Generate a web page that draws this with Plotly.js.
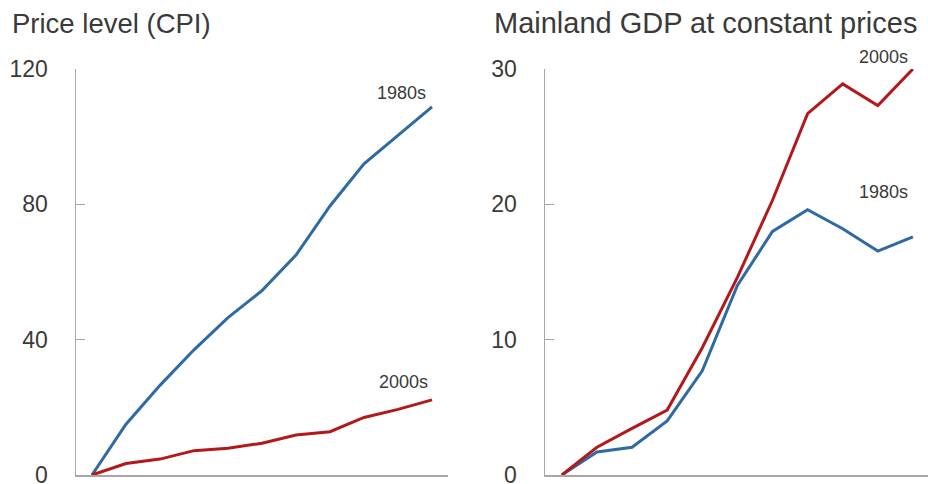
<!DOCTYPE html>
<html><head><meta charset="utf-8">
<script src="https://cdn.plot.ly/plotly-3.0.1.min.js"></script>
<style>html,body{margin:0;padding:0;background:#fff}#chart{width:928px;height:484px}</style>
</head><body><div id="chart"></div>
<script>
// Years since start of decade (0..10)
const years = [0,1,2,3,4,5,6,7,8,9,10];
// Price level (CPI)
const cpi1980s = [0, 15, 26.5, 37, 46.5, 54.5, 65, 79.5, 92, 100.5, 108.8];
const cpi2000s = [0, 3.4, 4.7, 7.2, 7.9, 9.4, 11.8, 12.8, 17.0, 19.4, 22.2];
// Mainland GDP at constant prices
const gdp1980s = [0, 1.7, 2.05, 4.0, 7.7, 14.0, 18.0, 19.6, 18.2, 16.55, 17.6];
const gdp2000s = [0, 2.05, 3.45, 4.8, 9.4, 14.6, 20.3, 26.7, 28.9, 27.3, 30.0];
const leftTicks = [0, 40, 80, 120];
const rightTicks = [0, 10, 20, 30];
const titles = ["Price level (CPI)", "Mainland GDP at constant prices"];
const seriesNames = ["1980s", "2000s"];

const BLUE = "#2f6aa3", RED = "#b3191b", AX = "#a6a6a6", TXT = "#3a3a3a";
const FONT = "Liberation Sans, Arial, sans-serif";

const traces = [
  {x: years, y: cpi1980s, name: seriesNames[0], xaxis: "x", yaxis: "y", mode: "lines", line: {color: BLUE, width: 3}},
  {x: years, y: cpi2000s, name: seriesNames[1], xaxis: "x", yaxis: "y", mode: "lines", line: {color: RED, width: 3}},
  {x: years, y: gdp1980s, name: seriesNames[0], xaxis: "x2", yaxis: "y2", mode: "lines", line: {color: BLUE, width: 3}},
  {x: years, y: gdp2000s, name: seriesNames[1], xaxis: "x2", yaxis: "y2", mode: "lines", line: {color: RED, width: 3}}
];

const yDom = [9/484, 415/484];
function yax(ticks, range, anchor){
  return {domain: yDom, range: range, anchor: anchor, tickvals: ticks, ticktext: ticks.map(String),
    showline: true, linecolor: AX, linewidth: 1.5, ticks: "inside", ticklen: 9, tickcolor: AX, tickwidth: 1.5,
    showgrid: false, zeroline: false, automargin: false, ticklabelstandoff: 22, ticklabeloverflow: "allow",
    tickfont: {family: FONT, size: 23, color: TXT}, fixedrange: true};
}
const layout = {
  width: 928, height: 484, margin: {l: 0, r: 0, t: 0, b: 0},
  paper_bgcolor: "#fff", plot_bgcolor: "#fff", showlegend: false,
  xaxis: {domain: [76/928, 448/928], range: [-0.47, 10.47], anchor: "y", showline: true, linecolor: AX, linewidth: 1.5,
    ticks: "inside", ticklen: 8, tickcolor: AX, tickwidth: 1.5, tickvals: [10.46], showticklabels: false,
    showgrid: false, zeroline: false, automargin: false},
  xaxis2: {domain: [545/928, 1], range: [-0.48, 10.43], anchor: "y2", showline: true, linecolor: AX, linewidth: 1.5,
    ticks: "", showticklabels: false, showgrid: false, zeroline: false, automargin: false},
  yaxis: yax(leftTicks, [0, 120], "x"),
  yaxis2: yax(rightTicks, [0, 30], "x2"),
  annotations: [
    {text: titles[0], xref: "paper", yref: "paper", x: 10/928, y: 1 - 41/484, xanchor: "left", yanchor: "bottom", showarrow: false,
      font: {family: FONT, size: 27.5, color: TXT}},
    {text: titles[1], xref: "paper", yref: "paper", x: 492/928, y: 1 - 41/484, xanchor: "left", yanchor: "bottom", showarrow: false,
      font: {family: FONT, size: 29, color: TXT}},
    {text: seriesNames[0], xref: "x", yref: "y", x: 10, y: cpi1980s[10], xanchor: "right", yanchor: "middle", xshift: -4, yshift: 14,
      showarrow: false, font: {family: FONT, size: 18, color: TXT}},
    {text: seriesNames[1], xref: "x", yref: "y", x: 10, y: cpi2000s[10], xanchor: "right", yanchor: "middle", xshift: -2, yshift: 18,
      showarrow: false, font: {family: FONT, size: 18, color: TXT}},
    {text: seriesNames[1], xref: "x2", yref: "y2", x: 10, y: gdp2000s[10], xanchor: "right", yanchor: "middle", xshift: -3, yshift: 12,
      showarrow: false, font: {family: FONT, size: 18, color: TXT}},
    {text: seriesNames[0], xref: "x2", yref: "y2", x: 10, y: gdp1980s[10], xanchor: "right", yanchor: "middle", xshift: -3, yshift: 45,
      showarrow: false, font: {family: FONT, size: 18, color: TXT}}
  ]
};
Plotly.newPlot("chart", traces, layout, {staticPlot: true, displayModeBar: false});
</script></body></html>
